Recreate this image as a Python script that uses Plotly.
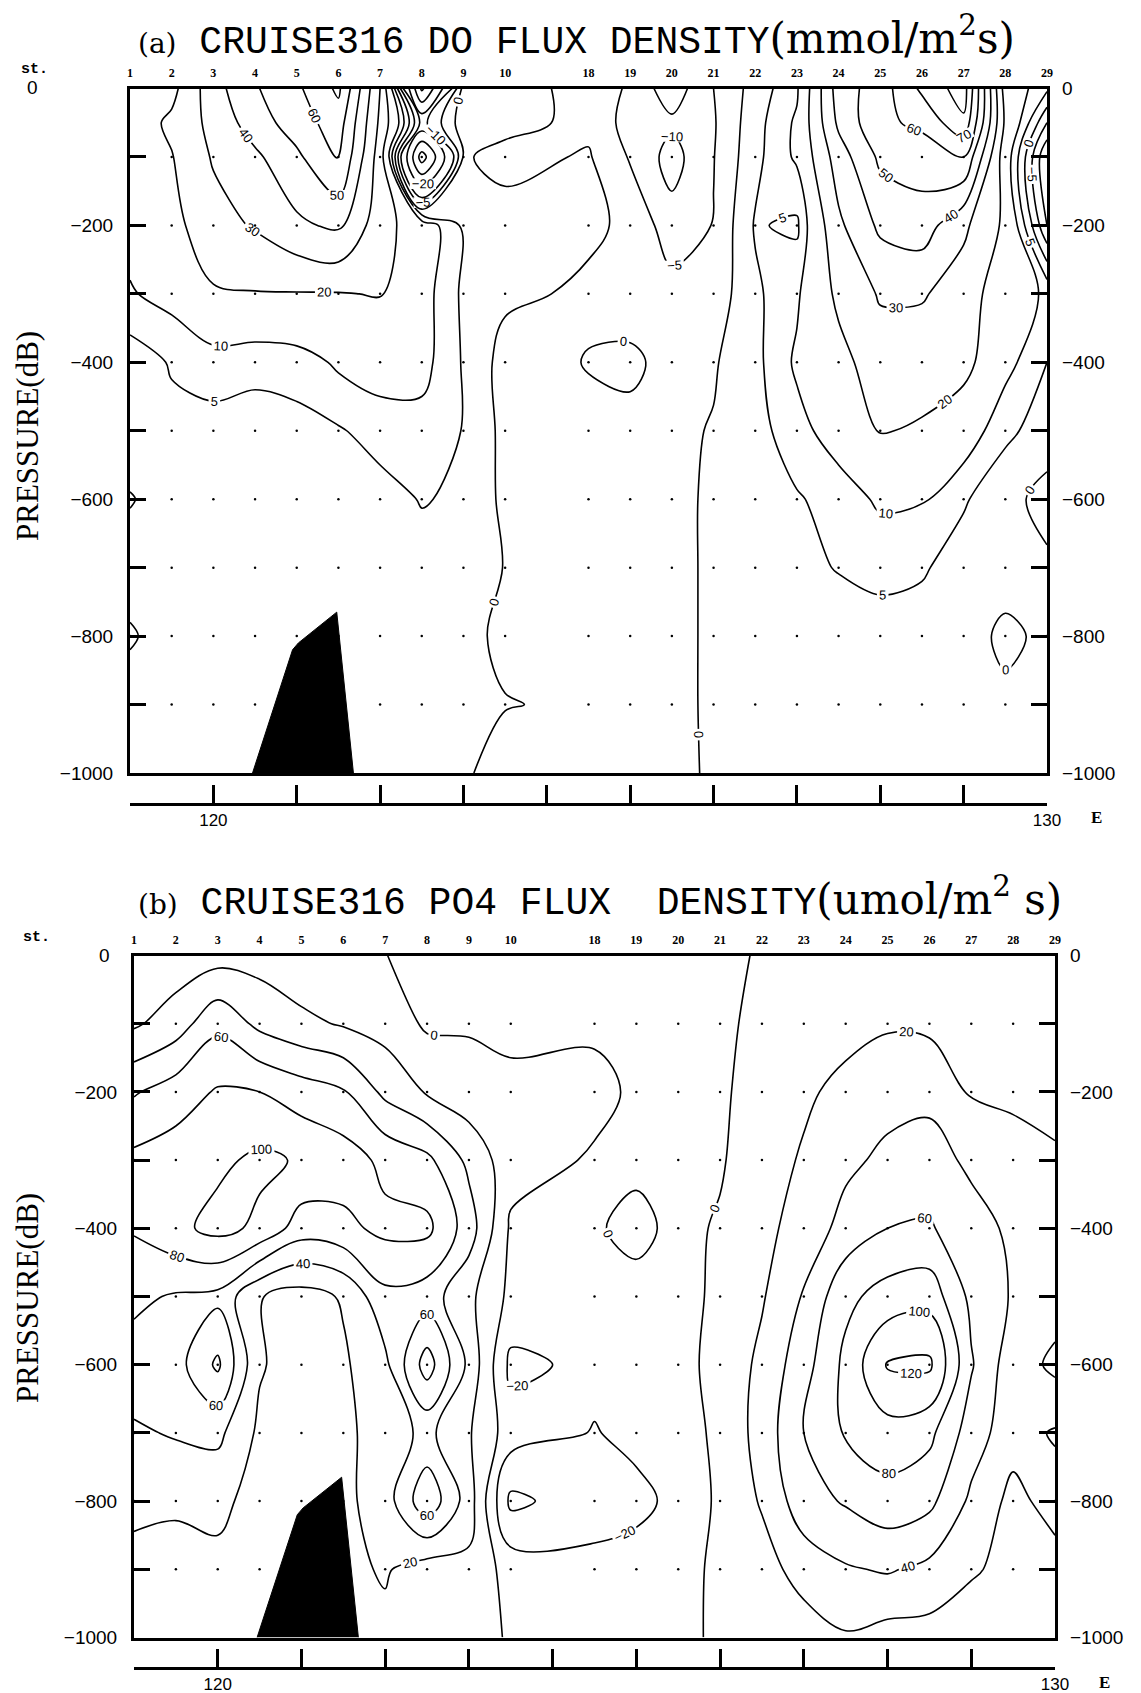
import numpy as np
import plotly.graph_objects as go

# ---------------- data ----------------
stations = ["1", "2", "3", "4", "5", "6", "7", "8", "9", "10", "18", "19", "20",
            "21", "22", "23", "24", "25", "26", "27", "28", "29"]
station_lon = [119.0, 119.5, 120.0, 120.5, 121.0, 121.5, 122.0, 122.5, 123.0, 123.5,
               124.5, 125.0, 125.5, 126.0, 126.5, 127.0, 127.5, 128.0, 128.5, 129.0,
               129.5, 130.0]

# (a) DO flux density, mmol/m2 s  -- one list per station, values at pres_a
pres_a = [0, -50, -100, -200, -300, -400, -500, -600, -700, -800, -900, -1000]
do_st01 = [14, 14, 10, 12, 9.5, 2, 2.5, -0.3, 2, -0.5, 2, 2]
do_st02 = [17, 22, 19.5, 17, 12, 5.5, 3.5, 2, 2, 2, 2, 2]
do_st03 = [36, 33, 31, 26, 19, 7, 3.5, 3, 2.5, 2.5, 2, 2]
do_st04 = [49, 45, 38, 31, 19.5, 6, 3.5, 3, 2.5, 2.5, 2, 2]
do_st05 = [58, 55, 48, 38, 19.5, 7, 3.5, 3, 2.5, 2.5, 2, 2]
do_st06 = [72, 65, 61, 42, 19.5, 11, 4.5, 3, 2.5, 2.5, 2, 2]
do_st07 = [30, 28, 25, 24, 20.5, 13, 7, 3, 2.5, 2.5, 2, 2]
do_st08 = [-42, -12, -45, 14, 12.5, 12, 8, 5.3, 3, 2.5, 2, 2]
do_st09 = [2, 3, 0.5, 4, 4, 4.5, 4.8, 4.2, 3, 2, 1.5, 1]
do_st10 = [1, 1.5, -1.5, 2, 1, -2, -1.5, -1.2, -0.2, -1.5, 0.3, -3]
do_st18 = [-0.8, -1.2, 0.5, 0.8, -0.8, 0.2, -1, -1.5, -1.5, -1.5, -1, -1.5]
do_st19 = [-6, -7, -5.5, -0.8, -1.5, 0.6, -0.8, -1, -1, -1, -1, -1]
do_st20 = [-13, -9, -12, -8, -3, -1, -1, -1, -1, -1, -1, -1]
do_st21 = [-5, -5.5, -5.2, -4.8, -3, -0.5, 0.3, 0.6, 0.6, 0.6, 0.6, 0.5]
do_st22 = [2, 3, 3.5, 5.5, 4, 3.5, 3, 2.5, 2, 1.5, 1, 1]
do_st23 = [9, 11, 11, 4, 9, 11, 8, 4.5, 4, 2.5, 2, 2]
do_st24 = [45, 42, 35, 28, 22, 17, 13, 7, 5.2, 3, 2, 2]
do_st25 = [55, 58, 52, 42, 31, 25, 20.5, 11, 6, 3.5, 2.5, 2]
do_st26 = [72, 62, 55, 45, 31, 24, 19, 10.5, 5.5, 3, 2.5, 2]
do_st27 = [85, 78, 60, 32, 25, 23, 14, 5.5, 3, 2, 2, 2]
do_st28 = [15, 18, 14, 18, 14, 12, 6, 2, 2, -1, 1, 1]
do_st29 = [6, -5, -15, -10, 9, 5, 3, -2, 1, 1, 1, 1]

# (b) PO4 flux density, umol/m2 s -- one list per station, values at pres_b
pres_b = [0, -100, -200, -300, -400, -500, -600, -700, -800, -900, -1000]
po_st01 = [5, 17, 58, 85, 82, 64, 52, 37, 24, 15, 12]
po_st02 = [8, 30, 70, 90, 95, 58, 52, 42, 22, 15, 14]
po_st03 = [12, 55, 82, 96, 106, 55, 84, 45, 24, 16, 15]
po_st04 = [12, 35, 80, 104, 96, 21, 22, 16, 14, 11, 10]
po_st05 = [5, 25, 70, 98, 70, 12, 10, 8, 8, 8, 8]
po_st06 = [3, 18, 62, 90, 75, 22, 17, 15, 15, 15, 15]
po_st07 = [0.5, 12, 35, 75, 85, 55, 35, 30, 30, 22, 15]
po_st08 = [-8, -3, 18, 65, 85, 50, 90, 45, 75, 10, 8]
po_st09 = [-6, -2, 8, 35, 50, 25, 35, 22, 30, 15, 8]
po_st10 = [-5, -3, 3, 8, -3, -5, -25, -10, -45, -8, -2]
po_st18 = [-5, -3, 5, -2, -2, -5, -15, -21, -28, -15, -5]
po_st19 = [-6, -4, -3, -4, 5, -6, -8, -15, -25, -12, -5]
po_st20 = [-8, -6, -4, -3, -5, -5, -5, -8, -15, -5, -3]
po_st21 = [-5, -4, -3, -2, 2, 3, 5, 4, 4, 3, 2]
po_st22 = [2, 5, 8, 12, 16, 18, 25, 28, 22, 12, 5]
po_st23 = [5, 10, 17, 22, 26, 42, 52, 60, 52, 28, 10]
po_st24 = [8, 14, 25, 35, 48, 75, 85, 82, 62, 38, 18]
po_st25 = [10, 18, 32, 45, 60, 88, 122, 92, 72, 42, 12]
po_st26 = [10, 16, 35, 48, 62, 92, 124, 85, 65, 35, 12]
po_st27 = [8, 15, 18, 36, 48, 55, 62, 50, 36, 22, 10]
po_st28 = [8, 10, 16, 28, 36, 38, 28, 28, 14, 15, 10]
po_st29 = [10, 12, 15, 22, 28, 30, 45, 18, 28, 12, 8]

# sea-floor (bathymetry) outline
floor_lon = [120.47, 120.83, 120.95, 121.02, 121.48, 121.68]
floor_p = [-1000, -865, -820, -810, -765, -1000]

# observation depths (dots)
obs_p = [-100, -200, -300, -400, -500, -600, -700, -800, -900]

lon_ticks = [119, 120, 121, 122, 123, 124, 125, 126, 127, 128, 129, 130]
lon_text = ["", "120", "", "", "", "", "", "", "", "", "", "130"]
ytick_vals = [-1000, -800, -600, -400, -200]
ytick_text = ["\u22121000", "\u2212800", "\u2212600", "\u2212400", "\u2212200"]
yminor_vals = [-900, -700, -500, -300, -100]

do_cols = [do_st01, do_st02, do_st03, do_st04, do_st05, do_st06, do_st07, do_st08,
           do_st09, do_st10, do_st18, do_st19, do_st20, do_st21, do_st22, do_st23,
           do_st24, do_st25, do_st26, do_st27, do_st28, do_st29]
po_cols = [po_st01, po_st02, po_st03, po_st04, po_st05, po_st06, po_st07, po_st08,
           po_st09, po_st10, po_st18, po_st19, po_st20, po_st21, po_st22, po_st23,
           po_st24, po_st25, po_st26, po_st27, po_st28, po_st29]
z_do = np.array(do_cols, dtype=float).T
z_po = np.array(po_cols, dtype=float).T

# ---------------- layout geometry (screen pixels -> paper) ----------------
OFF = 8                       # default page body margin
W, H = 1141 - OFF, 1693 - OFF
def px(x):
    return (x - OFF) / W
def py(y):
    return 1 - (y - OFF) / H

A = dict(x0=130, x1=1047, y0=88.5, y1=773, axis_y=804)
B = dict(x0=134, x1=1055, y0=955.5, y1=1637.5, axis_y=1668)

fig = go.Figure()

line_style = dict(color="black", width=1.6)
lab_font = dict(family="Liberation Sans", size=13, color="black")

def add_panel(z, pres, levels_main, levels_extra, xa, ya):
    fig.add_trace(go.Contour(
        x=station_lon, y=pres, z=z, xaxis=xa, yaxis=ya,
        autocontour=False,
        contours=dict(start=levels_main[0], end=levels_main[1], size=levels_main[2],
                      coloring="none", showlabels=True, labelfont=lab_font),
        line=line_style, showscale=False, hoverinfo="skip"))
    if levels_extra is not None:
        fig.add_trace(go.Contour(
            x=station_lon, y=pres, z=z, xaxis=xa, yaxis=ya,
            autocontour=False,
            contours=dict(start=levels_extra[0], end=levels_extra[1], size=levels_extra[2],
                          coloring="none", showlabels=True, labelfont=lab_font),
            line=line_style, showscale=False, hoverinfo="skip"))
    dx = [lon for p in obs_p for lon in station_lon]
    dy = [p for p in obs_p for lon in station_lon]
    fig.add_trace(go.Scatter(x=dx, y=dy, mode="markers", xaxis=xa, yaxis=ya,
                             marker=dict(color="black", size=2.5),
                             showlegend=False, hoverinfo="skip"))
    fig.add_trace(go.Scatter(x=floor_lon, y=floor_p, mode="lines", fill="toself",
                             fillcolor="black", line=dict(color="black", width=1),
                             xaxis=xa, yaxis=ya, showlegend=False, hoverinfo="skip"))

add_panel(z_do, pres_a, (-40, 80, 10), (-5, 5, 10), "x", "y")
add_panel(z_po, pres_b, (-40, 120, 20), None, "x2", "y2")

# helper (invisible) traces so that the extra axes are drawn
for xa, ya in (("x3", "y"), ("x", "y3"), ("x4", "y2"), ("x2", "y4")):
    fig.add_trace(go.Scatter(x=[119, 130], y=[-1000, -1000], mode="markers",
                             marker=dict(opacity=0), xaxis=xa, yaxis=ya,
                             showlegend=False, hoverinfo="skip"))

def top_axis(P, anchor):
    return dict(domain=[px(P["x0"]), px(P["x1"])], range=[119, 130], side="top",
                anchor=anchor, automargin=False,
                tickvals=station_lon, ticktext=stations, ticks="",
                tickfont=dict(family="Liberation Serif", size=12, color="black", weight="bold"),
                ticklabelstandoff=4, showline=True, linewidth=3, linecolor="black",
                mirror=True, showgrid=False, zeroline=False)

def left_axis(P, anchor):
    return dict(domain=[py(P["y1"]), py(P["y0"])], range=[-1000, 0], anchor=anchor,
                automargin=False,
                tickvals=ytick_vals, ticktext=ytick_text, ticks="inside", ticklen=16,
                tickwidth=3, tickcolor="black",
                minor=dict(tickvals=yminor_vals, ticks="inside", ticklen=16,
                           tickwidth=3, tickcolor="black"),
                tickfont=dict(family="Liberation Sans", size=19, color="black"),
                ticklabelstandoff=10, showline=True, linewidth=3, linecolor="black",
                mirror="allticks", showgrid=False, zeroline=False)

def right_axis(over, anchor):
    return dict(overlaying=over, side="right", range=[-1000, 0], anchor=anchor,
                automargin=False,
                tickvals=[0] + ytick_vals, ticktext=["0"] + ytick_text,
                ticks="", showline=False, showgrid=False, zeroline=False,
                tickfont=dict(family="Liberation Sans", size=19, color="black"),
                ticklabelstandoff=14)

def bottom_axis(over, P):
    return dict(overlaying=over, anchor="free", position=py(P["axis_y"]), side="bottom",
                automargin=False,
                range=[119, 130], tickvals=lon_ticks, ticktext=lon_text,
                ticks="inside", ticklen=18, tickwidth=2.5, tickcolor="black",
                showline=True, linewidth=3, linecolor="black", showgrid=False,
                zeroline=False, ticklabelstandoff=0,
                tickfont=dict(family="Liberation Sans", size=17, color="black"))

fig.update_layout(
    width=W, height=H, margin=dict(l=0, r=0, t=0, b=0, pad=0), autosize=False,
    paper_bgcolor="white", plot_bgcolor="white", showlegend=False,
    xaxis=top_axis(A, "y"), yaxis=left_axis(A, "x"),
    xaxis2=top_axis(B, "y2"), yaxis2=left_axis(B, "x2"),
    yaxis3=right_axis("y", "x"), yaxis4=right_axis("y2", "x2"),
    xaxis3=bottom_axis("x", A), xaxis4=bottom_axis("x2", B),
)

mono = "Liberation Mono"
ann = []
def note(text, x, y, size, family="Liberation Serif", xanchor="center", angle=0, bold=False):
    ann.append(dict(text=text, x=px(x), y=py(y), xref="paper", yref="paper",
                    xanchor=xanchor, yanchor="middle", showarrow=False, textangle=angle,
                    font=dict(family=family, size=size, color="black",
                              weight="bold" if bold else "normal")))

note('<span style="font-family:DejaVu Serif;font-size:28px">(a)</span> CRUISE316 DO FLUX DENSITY'
     '<span style="font-family:DejaVu Serif;font-size:42px">(mmol/m<sup>2</sup>s)</span>',
     136, 36, 38, family=mono, xanchor="left")
note('<span style="font-family:DejaVu Serif;font-size:28px">(b)</span> CRUISE316 PO4 FLUX  DENSITY'
     '<span style="font-family:DejaVu Serif;font-size:42px">(umol/m<sup>2</sup> s)</span>',
     136, 897, 38, family=mono, xanchor="left")
note("st.", 34, 70, 15, family="Liberation Mono", bold=True)
note("0", 32, 88, 19, family="Liberation Sans")
note("st.", 36, 938, 15, family="Liberation Mono", bold=True)
note("0", 112, 956, 19, family="Liberation Sans", xanchor="right")
note("PRESSURE(dB)", 27, 436, 31, angle=-90)
note("PRESSURE(dB)", 27, 1298, 31, angle=-90)
note("E", 1096, 817, 17, bold=True)
note("E", 1104, 1682, 17, bold=True)
fig.update_layout(annotations=ann)

fig.write_html("out.html")
